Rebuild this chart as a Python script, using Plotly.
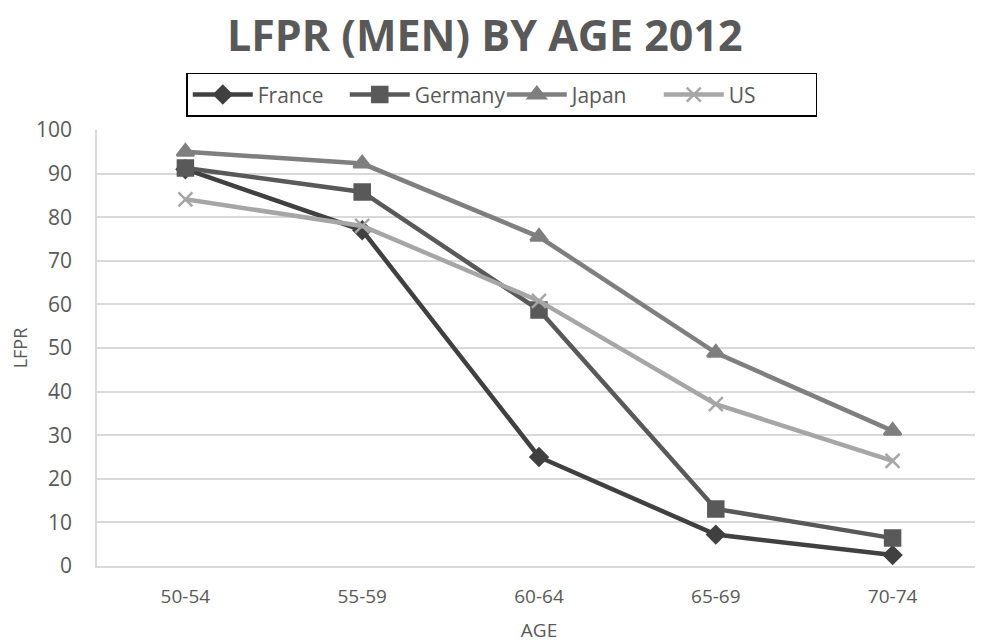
import plotly.graph_objects as go

ages = ["50-54", "55-59", "60-64", "65-69", "70-74"]
france = [91, 77, 25, 7.2, 2.5]
germany = [91.3, 85.8, 58.7, 13.1, 6.4]
japan = [95, 92.3, 75.5, 48.9, 31]
us = [84.1, 78, 60.8, 37.1, 24.1]

series = [
    ("France", france, "#404040", "diamond", 13),
    ("Germany", germany, "#595959", "square", 15),
    ("Japan", japan, "#7f7f7f", "triangle-up", 15),
    ("US", us, "#a6a6a6", "x-thin-open", 14),
]

fig = go.Figure()
for name, vals, color, sym, size in series:
    fig.add_trace(go.Scatter(
        x=ages, y=vals, name=name, mode="lines+markers",
        line=dict(color=color, width=4.5),
        marker=dict(symbol=sym, size=size, color=color,
                    line=dict(color=color, width=2.5)),
        cliponaxis=False,
    ))

fig.update_layout(
    width=983, height=642,
    paper_bgcolor="white", plot_bgcolor="white",
    margin=dict(l=89, r=10, t=122, b=84, autoexpand=False),
    font=dict(family="Open Sans, Noto Sans, sans-serif", color="#595959"),
    title=dict(text="<b>LFPR (MEN) BY AGE 2012</b>", x=0.485, xanchor="center",
               y=0.957, yanchor="middle",
               font=dict(size=43, color="#595959", family="Open Sans, sans-serif")),
    legend=dict(orientation="h", x=0.101, y=1.131, xanchor="left", yanchor="top",
                bordercolor="#000000", borderwidth=1.5, bgcolor="white",
                font=dict(size=21, color="#595959"), itemwidth=60,
                entrywidthmode="pixels", entrywidth=82, tracegroupgap=0),
    xaxis=dict(title=dict(text="AGE", font=dict(size=19, color="#595959"), standoff=16),
               tickfont=dict(size=19, color="#595959"), showgrid=False,
               range=[-0.5, 4.5],
               showline=True, linecolor="#d9d9d9", linewidth=1.5, ticks="",
               automargin=False, ticklabelstandoff=12),
    yaxis=dict(title=dict(text="LFPR", font=dict(size=18, color="#595959"), standoff=14),
               range=[0, 100], dtick=10, tickfont=dict(size=21, color="#595959"),
               gridcolor="#d9d9d9", gridwidth=1.5, zeroline=False,
               showline=True, linecolor="#d9d9d9", linewidth=1.5,
               ticks="", ticklabelstandoff=19, automargin=False),
    showlegend=True,
)

fig.write_html("out.html")
